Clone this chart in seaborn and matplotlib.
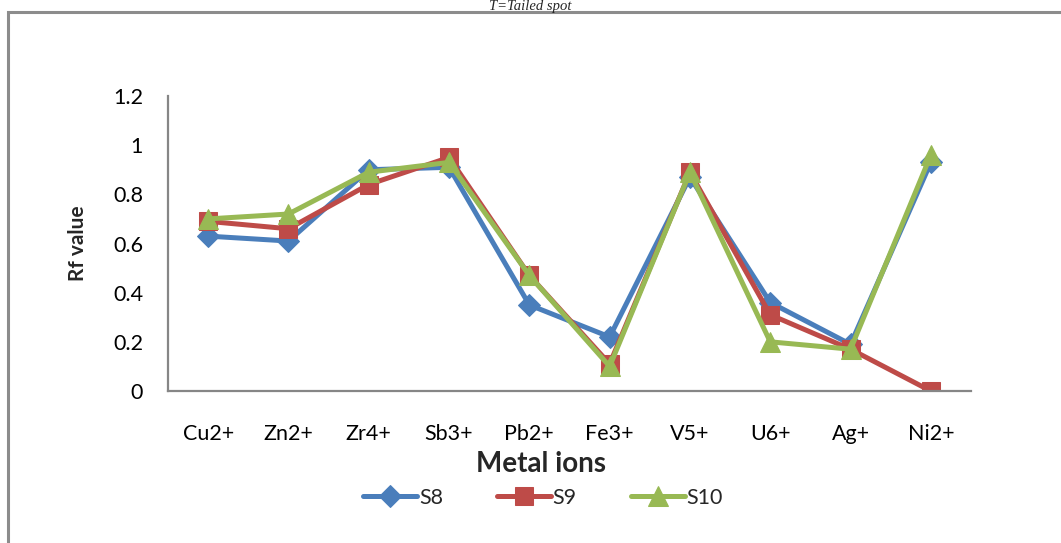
import matplotlib
matplotlib.use("Agg")
import matplotlib.pyplot as plt
import seaborn as sns
import pandas as pd
from matplotlib.patches import Rectangle

ions = ["Cu2+", "Zn2+", "Zr4+", "Sb3+", "Pb2+", "Fe3+", "V5+", "U6+", "Ag+", "Ni2+"]
s8 = [0.63, 0.61, 0.90, 0.91, 0.35, 0.22, 0.87, 0.36, 0.19, 0.93]
s9 = [0.69, 0.66, 0.84, 0.95, 0.47, 0.11, 0.89, 0.31, 0.17, 0.00]
s10 = [0.70, 0.72, 0.89, 0.93, 0.47, 0.10, 0.89, 0.20, 0.17, 0.96]
series_names = ["S8", "S9", "S10"]
yticks = [0, 0.2, 0.4, 0.6, 0.8, 1, 1.2]
ytick_labels = ["0", "0.2", "0.4", "0.6", "0.8", "1", "1.2"]

sns.set_style("white")
plt.rcParams["font.family"] = ["Lato", "DejaVu Sans"]

W, H = 1061, 543
fig = plt.figure(figsize=(W / 100, H / 100), dpi=100)
ax = fig.add_axes([168 / W, 1 - 391 / H, (971 - 168) / W, (391 - 96) / H])

colors = ["#4A7EBB", "#BE4B48", "#98B954"]
markers = ["D", "s", "^"]
msizes = [11, 13, 15]
for name, vals, c, m, ms in zip(series_names, [s8, s9, s10], colors, markers, msizes):
    df = pd.DataFrame({"ion": ions, "rf": vals})
    sns.lineplot(data=df, x="ion", y="rf", ax=ax, color=c, marker=m,
                 markersize=ms, markeredgecolor=c, linewidth=3.6, label=name,
                 sort=False)

ax.set_xlim(-0.5, len(ions) - 0.5)
ax.set_ylim(0, 1.2)
ax.set_yticks(yticks)
ax.set_yticklabels(ytick_labels)
ax.tick_params(axis="both", length=0, labelsize=15.5, colors="black")
ax.tick_params(axis="y", pad=18)
ax.tick_params(axis="x", pad=24)
for s in ["top", "right"]:
    ax.spines[s].set_visible(False)
for s in ["left", "bottom"]:
    ax.spines[s].set_color("#868686")
    ax.spines[s].set_linewidth(1.6)
ax.grid(False)

ax.set_xlabel("Metal ions", fontsize=20, fontweight="bold", labelpad=2)
ax.xaxis.set_label_coords((541 - 168) / (971 - 168), -(451 - 391) / (391 - 96))
ax.set_ylabel("Rf value", fontsize=15, fontweight="bold", labelpad=22)
ax.yaxis.set_label_coords(-(168 - 88) / (971 - 168), 0.5)

ax.legend_.remove()
handles, labels = ax.get_legend_handles_labels()
fig.legend(handles, labels, loc="center", bbox_to_anchor=(543 / W, 1 - 498 / H),
           ncol=3, frameon=False, fontsize=15.5, handlelength=2.5,
           columnspacing=2.5, handletextpad=0.1)

fig.patches.append(Rectangle((8 / W, -0.1), 1.2, (H - 12) / H + 0.1,
                             transform=fig.transFigure, fill=False,
                             edgecolor="#8C8C8C", linewidth=2.2))
fig.text(0.5, 1.0, "T=Tailed spot", ha="center", va="top",
         fontsize=10.5, style="italic", family=["Liberation Serif", "DejaVu Serif"])

fig.savefig("out.png", dpi=100, facecolor="white")
